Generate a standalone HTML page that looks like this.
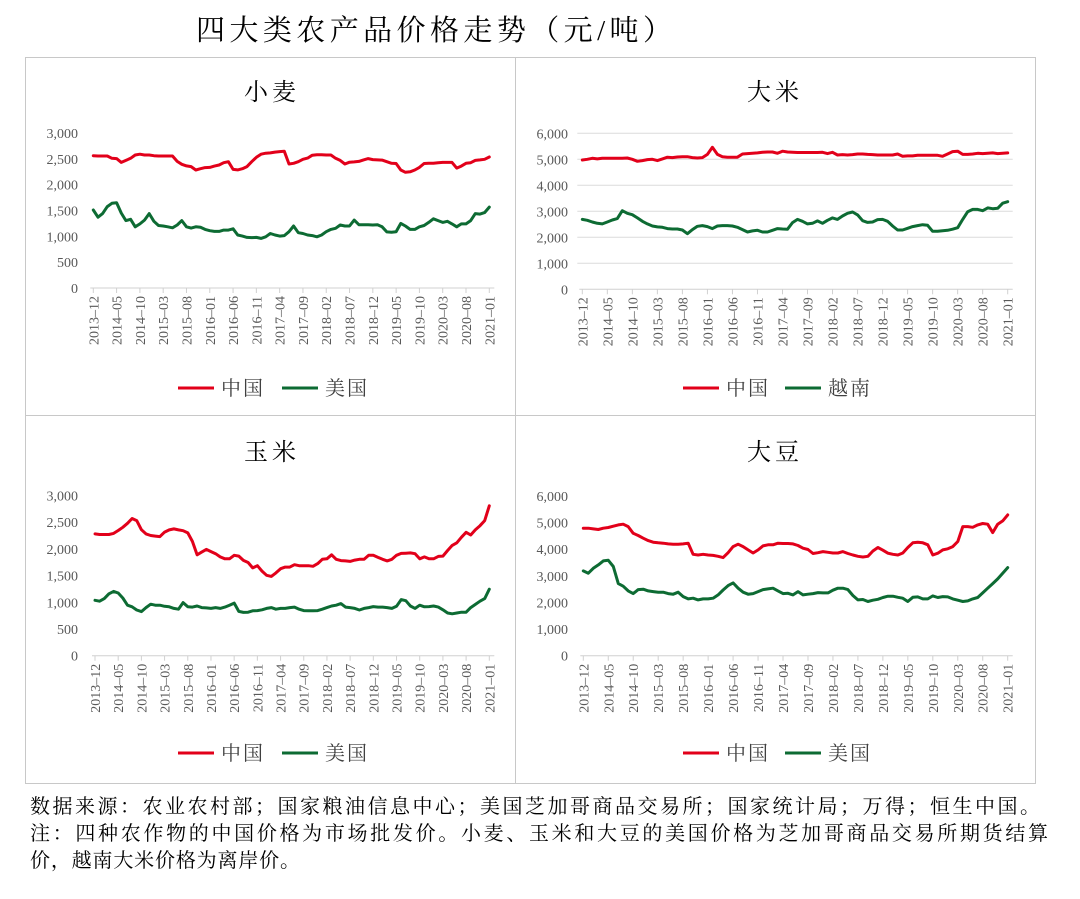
<!DOCTYPE html>
<html><head><meta charset="utf-8"><style>
html,body{margin:0;padding:0;background:#fff;}
svg{display:block;font-family:"Liberation Serif","Noto Serif CJK SC",serif;}
</style></head><body>
<svg id="chart" width="1080" height="899" viewBox="0 0 1080 899" xmlns="http://www.w3.org/2000/svg">
<rect width="1080" height="899" fill="#fff"/>
<text x="196" y="40" font-size="29" textLength="476" fill="#000">四大类农产品价格走势（元/吨）</text>
<rect x="25.5" y="57.5" width="490" height="358" fill="none" stroke="#c8c8c8"/>
<rect x="515.5" y="57.5" width="520" height="358" fill="none" stroke="#c8c8c8"/>
<rect x="25.5" y="415.5" width="490" height="368" fill="none" stroke="#c8c8c8"/>
<rect x="515.5" y="415.5" width="520" height="368" fill="none" stroke="#c8c8c8"/>
<g id="plots"></g>
<text x="30" y="813" font-size="20" textLength="1010" font-family="Noto Serif CJK SC, serif">数据来源：农业农村部；国家粮油信息中心；美国芝加哥商品交易所；国家统计局；万得；恒生中国。</text>
<text x="30" y="840" font-size="20" textLength="1018" font-family="Noto Serif CJK SC, serif">注：四种农作物的中国价格为市场批发价。小麦、玉米和大豆的美国价格为芝加哥商品交易所期货结算</text>
<text x="30" y="867" font-size="20" textLength="270" font-family="Noto Serif CJK SC, serif">价，越南大米价格为离岸价。</text>
</svg>
<script>
const tickLabels = ["2013-12","2014-05","2014-10","2015-03","2015-08","2016-01","2016-06","2016-11","2017-04","2017-09","2018-02","2018-07","2018-12","2019-05","2019-10","2020-03","2020-08","2021-01"];
const wheatChina = [2560,2555,2555,2555,2510,2505,2430,2470,2510,2575,2590,2575,2575,2560,2555,2555,2555,2555,2450,2395,2363,2350,2283,2310,2330,2335,2360,2380,2425,2445,2295,2285,2310,2350,2445,2530,2590,2610,2615,2630,2640,2645,2400,2413,2445,2490,2515,2570,2580,2580,2575,2575,2510,2470,2400,2435,2440,2450,2480,2505,2485,2480,2475,2445,2413,2410,2283,2240,2250,2283,2335,2410,2413,2413,2425,2430,2430,2430,2320,2360,2413,2425,2470,2480,2490,2535];
const wheatUS = [1510,1370,1440,1575,1640,1650,1450,1305,1330,1185,1240,1315,1440,1290,1210,1200,1185,1165,1220,1305,1185,1160,1185,1175,1135,1110,1095,1095,1120,1120,1145,1025,1005,980,975,980,960,990,1055,1025,1005,1015,1090,1200,1070,1055,1025,1015,990,1025,1090,1135,1155,1220,1200,1200,1315,1225,1225,1225,1220,1225,1185,1085,1080,1090,1250,1200,1135,1135,1185,1210,1270,1340,1305,1270,1290,1240,1185,1240,1240,1305,1440,1430,1460,1565];
const riceChina = [4975,5000,5040,5015,5040,5040,5040,5040,5040,5050,5000,4925,4950,4990,5000,4950,5015,5080,5065,5090,5100,5100,5065,5050,5065,5190,5460,5190,5100,5080,5080,5080,5205,5220,5230,5245,5270,5280,5280,5230,5310,5280,5270,5260,5260,5260,5260,5260,5270,5220,5270,5165,5180,5165,5180,5205,5205,5190,5180,5165,5165,5165,5165,5205,5115,5130,5130,5155,5155,5155,5155,5155,5115,5205,5295,5310,5190,5190,5205,5230,5220,5230,5245,5220,5230,5245];
const riceVietnam = [2690,2655,2590,2540,2515,2590,2665,2720,3025,2925,2870,2745,2615,2515,2435,2400,2385,2335,2320,2320,2280,2140,2295,2425,2450,2410,2335,2435,2450,2450,2435,2385,2295,2205,2245,2270,2205,2205,2270,2335,2320,2310,2565,2690,2615,2515,2540,2630,2540,2655,2745,2690,2820,2925,2975,2860,2640,2575,2590,2680,2690,2615,2435,2280,2280,2345,2410,2450,2485,2460,2230,2230,2255,2270,2310,2370,2690,2985,3075,3075,3025,3130,3100,3115,3310,3370];
const cornChina = [2280,2270,2270,2270,2290,2345,2405,2480,2570,2530,2360,2280,2250,2240,2230,2315,2355,2375,2355,2340,2300,2140,1890,1940,1990,1950,1910,1850,1815,1815,1880,1865,1785,1745,1645,1685,1585,1505,1485,1550,1630,1660,1660,1705,1685,1685,1685,1675,1725,1805,1815,1890,1805,1780,1775,1765,1790,1805,1805,1880,1880,1840,1805,1775,1805,1880,1915,1920,1925,1910,1815,1850,1815,1815,1860,1865,1970,2065,2115,2220,2310,2260,2360,2435,2530,2807];
const cornUS = [1037,1020,1070,1160,1205,1175,1080,945,915,855,825,900,965,945,945,925,915,885,870,995,915,910,930,900,895,885,900,885,910,945,985,830,810,815,840,845,860,885,900,870,885,885,900,910,870,845,840,840,845,870,900,930,945,975,910,900,885,855,885,900,920,910,910,900,885,925,1050,1030,930,885,945,915,920,930,910,860,800,785,800,815,815,900,960,1020,1070,1245];
const soyChina = [4790,4790,4765,4740,4790,4815,4865,4915,4940,4850,4600,4515,4415,4325,4265,4240,4225,4200,4190,4190,4200,4225,3810,3785,3810,3785,3770,3735,3685,3870,4100,4190,4100,3975,3860,3975,4125,4165,4165,4225,4215,4215,4200,4140,4040,3990,3840,3870,3910,3885,3860,3860,3910,3840,3785,3735,3710,3735,3935,4065,3965,3850,3810,3785,3860,4065,4240,4265,4240,4165,3785,3850,3975,4015,4100,4290,4850,4850,4825,4915,4965,4940,4625,4940,5065,5290];
const soyUS = [3185,3100,3285,3410,3560,3585,3350,2710,2610,2435,2335,2485,2500,2435,2410,2385,2385,2335,2310,2385,2220,2135,2160,2095,2135,2135,2160,2285,2470,2635,2735,2535,2385,2310,2335,2410,2485,2510,2535,2435,2335,2345,2285,2410,2285,2310,2335,2370,2360,2360,2460,2535,2535,2485,2260,2095,2110,2035,2085,2120,2185,2235,2235,2195,2160,2035,2195,2210,2135,2135,2245,2185,2220,2210,2135,2085,2035,2060,2135,2185,2360,2535,2710,2885,3100,3310];
const wheatTicks = [0,500,1000,1500,2000,2500,3000];
const riceTicks = [0,1000,2000,3000,4000,5000,6000];

const NS = "http://www.w3.org/2000/svg";
const root = document.getElementById('plots');
function mk(tag, attrs, parent){const e=document.createElementNS(NS,tag);for(const k in attrs)e.setAttribute(k,attrs[k]);(parent||root).appendChild(e);return e;}
const RED="#e2001a", GREEN="#0d6b33";

function panel(cfg){
  const g = mk('g',{});
  
  
  const n = cfg.s1.length;
  const xs = i => cfg.x0 + (cfg.x1-cfg.x0)*i/(n-1);
  const ys = v => cfg.y0 - (cfg.y0-cfg.yTop)*v/cfg.max;
  const t = mk('text',{x:cfg.cx,y:cfg.ty,'font-size':24,'text-anchor':'middle',fill:'#000','font-family':'Noto Serif CJK SC, serif','letter-spacing':4},g);
  t.textContent = cfg.title;
  
  
  cfg.ticks.forEach(v=>{
    if(cfg.grid && v>0){
      const gl = mk('line',{x1:cfg.x0-5,x2:cfg.x1+5,y1:ys(v),y2:ys(v),stroke:'#dcdcdc','stroke-width':1},g);
      
      
    }
    const lb = mk('text',{x:cfg.lx,y:ys(v)+5,'font-size':14,'text-anchor':'end',fill:'#595959'},g);
    lb.textContent = v.toLocaleString('en-US');
    
    
  });
  const ax = mk('line',{x1:cfg.x0-3,x2:cfg.x1+5,y1:cfg.y0,y2:cfg.y0,stroke:'#d0d0d0','stroke-width':1},g);
  
  
  tickLabels.forEach((lab,k)=>{
    const x = xs(k*5);
    const tk = mk('line',{x1:x,x2:x,y1:cfg.y0,y2:cfg.y0+5,stroke:'#d0d0d0'},g);
    
    
    const tl = mk('text',{x:0,y:0,'font-size':14,'text-anchor':'end',fill:'#595959',transform:`translate(${x+5},${cfg.y0+8}) rotate(-90)`},g);
    tl.textContent = lab.replace('-','–');
    
    
  });
  [[cfg.s2,GREEN,cfg.l2],[cfg.s1,RED,cfg.l1]].forEach(([s,c,nm])=>{
    const p = mk('polyline',{points:s.map((v,i)=>xs(i).toFixed(1)+','+ys(v).toFixed(1)).join(' '),fill:'none',stroke:c,'stroke-width':3,'stroke-linejoin':'round','stroke-linecap':'round'},g);
    
    
  });
  [[cfg.lg1,RED,cfg.l1],[cfg.lg2,GREEN,cfg.l2]].forEach(([lx,c,nm])=>{
    const ll = mk('line',{x1:lx,x2:lx+36,y1:cfg.ly,y2:cfg.ly,stroke:c,'stroke-width':3},g);
    
    
    const lt = mk('text',{x:lx+43,y:cfg.ly+7,'font-size':20,fill:'#404040','font-family':'Noto Serif CJK SC, serif','letter-spacing':2},g);
    lt.textContent = nm;
    
    
  });
}
panel({name:'wheat',title:'小麦',cx:272,ty:100,x0:93.3,x1:489.3,y0:288,yTop:133,max:3000,ticks:wheatTicks,lx:78,s1:wheatChina,s2:wheatUS,l1:'中国',l2:'美国',lg1:178,lg2:282,ly:388});
panel({name:'rice',title:'大米',cx:775,ty:100,x0:582.3,x1:1007.7,y0:289.3,yTop:133.3,max:6000,ticks:riceTicks,lx:568,grid:true,s1:riceChina,s2:riceVietnam,l1:'中国',l2:'越南',lg1:683,lg2:785,ly:388});
panel({name:'corn',title:'玉米',cx:272,ty:460,x0:95,x1:489.3,y0:655.7,yTop:495.5,max:3000,ticks:wheatTicks,lx:78,s1:cornChina,s2:cornUS,l1:'中国',l2:'美国',lg1:178,lg2:282,ly:753});
panel({name:'soybean',title:'大豆',cx:775,ty:460,x0:583.3,x1:1007.7,y0:655.7,yTop:496,max:6000,ticks:riceTicks,lx:568,s1:soyChina,s2:soyUS,l1:'中国',l2:'美国',lg1:683,lg2:785,ly:753});
</script>
</body></html>
